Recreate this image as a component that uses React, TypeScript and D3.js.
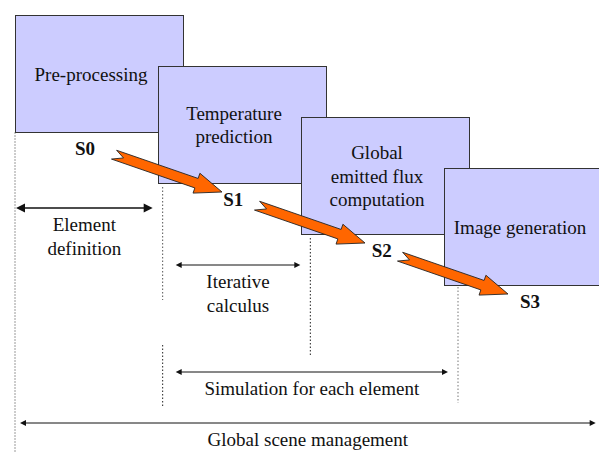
import React from "react";
import * as d3 from "d3";

// stage boxes, one text line per entry
const STAGE_LINES = [
  ["Pre-processing"],
  ["Temperature", "prediction"],
  ["Global", "emitted flux", "computation"],
  ["Image generation"],
];
const STATES = ["S0", "S1", "S2", "S3"];

// horizontal spans under the boxes, from stage boundary to stage boundary
const SPAN_LINES = [
  ["Element", "definition"],
  ["Iterative", "calculus"],
  ["Simulation for each element"],
  ["Global scene management"],
];
const SPAN_FROM = [0, 1, 1, 0];
const SPAN_TO = [1, 2, 3, 4];

const W = 599;
const H = 453;

const boxW = 168,
  boxH = 117;
const boxX = d3.scaleLinear().domain([0, 3]).range([15, 444]);
const boxY = d3.scaleLinear().domain([0, 3]).range([15, 168]);
const boundX = d3.scaleLinear().domain([0, 3]).range([15, 458]);
const stateX = d3.scaleLinear().domain([0, 3]).range([85, 530]);
const rowY = [208, 265, 372, 423];
const txt = { fontFamily: '"Liberation Serif"', fontSize: 19 };

function arrowPath(x0: number, y0: number, x1: number, y1: number) {
  const L = Math.hypot(x1 - x0, y1 - y0);
  const hl = 27;
  const pts: [number, number][] = [
    [0, -5],
    [L - hl, -5],
    [L - hl, -10.5],
    [L, 0],
    [L - hl, 10.5],
    [L - hl, 5],
    [-2, 5],
    [9, 0],
  ];
  return d3.line()(pts) + "Z";
}

export default function App() {
  const guides = [
    { x: boundX(0), y1: boxY(0) + boxH, y2: H, c: "#9a9a9a", d: "2,1" },
    { x: boundX(1), y1: boxY(1) + boxH + 4, y2: 300, c: "#555", d: "1.5,2" },
    { x: boundX(1), y1: 345, y2: 408, c: "#222", d: "1.5,2" },
    { x: boundX(2), y1: boxY(2) + boxH + 4, y2: 355, c: "#222", d: "1.5,2" },
    { x: boundX(3), y1: boxY(3) + boxH + 2, y2: 403, c: "#777", d: "1.5,2" },
  ];

  return (
    <svg
      width={W}
      height={H}
      style={{ position: "absolute", left: 0, top: 0, background: "#fff" }}
    >
      <g>
        {guides.map((d, i) => (
          <line
            key={i}
            x1={d.x}
            x2={d.x}
            y1={d.y1}
            y2={d.y2}
            stroke={d.c}
            strokeWidth={1}
            strokeDasharray={d.d}
          />
        ))}
      </g>

      {STAGE_LINES.map((lines, i) => {
        const first = boxH / 2 + 7 - ((lines.length - 1) * 23.5) / 2;
        return (
          <g key={i} transform={`translate(${boxX(i)},${boxY(i)})`}>
            <rect
              x={0.5}
              y={0.5}
              width={boxW}
              height={boxH}
              fill="#ccccff"
              stroke="#333"
              strokeWidth={1}
            />
            {lines.map((l, j) => (
              <text
                key={j}
                x={76}
                y={first + j * 23.5}
                textAnchor="middle"
                fill="#111"
                style={txt}
              >
                {l}
              </text>
            ))}
          </g>
        );
      })}

      {d3.range(STATES.length - 1).map((i) => {
        const x0 = boxX(i) + 100,
          y0 = boxY(i) + boxH + 23,
          x1 = boxX(i + 1) + 64,
          y1 = boxY(i + 1) + boxH + 9;
        const a = (Math.atan2(y1 - y0, x1 - x0) * 180) / Math.PI;
        return (
          <path
            key={i}
            transform={`translate(${x0},${y0}) rotate(${a})`}
            d={arrowPath(x0, y0, x1, y1)}
            fill="#ff6600"
            stroke="#222"
            strokeWidth={0.8}
          />
        );
      })}

      {STATES.map((s, i) => (
        <text
          key={s}
          x={stateX(i)}
          y={boxY(i) + boxH + 23}
          textAnchor="middle"
          fill="#111"
          style={{ ...txt, fontWeight: "bold" }}
        >
          {s}
        </text>
      ))}

      {SPAN_LINES.map((lines, i) => {
        const y = rowY[i];
        const xa =
          SPAN_FROM[i] === 0 ? boundX(0) + (i === 0 ? 1 : 5) : boundX(SPAN_FROM[i]) + 13;
        const xb = Math.min(boundX(SPAN_TO[i]) - 10, W - 1);
        const big = i === 0;
        const hl = big ? 9 : 6;
        const hw = big ? 4.5 : 3;
        return (
          <g key={i}>
            <line
              x1={xa + hl - 1}
              x2={xb - hl + 1}
              y1={y}
              y2={y}
              stroke="#111"
              strokeWidth={big ? 1.6 : 1}
            />
            <path d={`M${xa},${y}L${xa + hl},${y - hw}L${xa + hl},${y + hw}Z`} fill="#111" />
            <path d={`M${xb},${y}L${xb - hl},${y - hw}L${xb - hl},${y + hw}Z`} fill="#111" />
            {lines.map((l, j) => (
              <text
                key={j}
                x={(xa + xb) / 2}
                y={y + 23 + j * 23.5}
                textAnchor="middle"
                fill="#111"
                style={txt}
              >
                {l}
              </text>
            ))}
          </g>
        );
      })}
    </svg>
  );
}
